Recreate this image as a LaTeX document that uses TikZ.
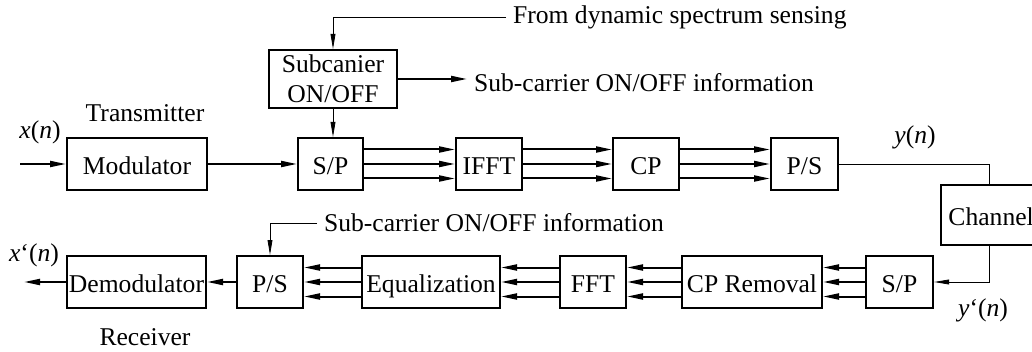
\documentclass[tikz,border=0pt]{standalone}
\usepackage{fontspec}
\setmainfont{Liberation Serif}
\usetikzlibrary{arrows.meta}

\begin{document}
\begin{tikzpicture}[x=0.5pt,y=-0.5pt,>={Triangle[length=8pt,width=3pt]},
    every node/.style={font=\fontsize{12.8}{15}\selectfont}]
    \tikzstyle{box} = [draw,line width=1pt,minimum height=26pt,inner sep=0pt,align=center]
    \tikzstyle{block} = [box,text height=11pt,text depth=0.5pt]
    \tikzstyle{bus} = [->,line width=1pt]
    \tikzstyle{wire} = [line width=0.4pt]
    \tikzstyle{tip} = [->,>={Triangle[length=7.5pt,width=2.4pt]}]
    \useasboundingbox (0,0) rectangle (1032,352);
    % transmitter row
    \node[block,minimum width=70pt] (mod) at (137,164) {Modulator};
    \node[block,minimum width=32.5pt] (sp1) at (330.5,164) {S/P};
    \node[block,minimum width=33pt] (ifft) at (489,164) {IFFT};
    \node[block,minimum width=33pt] (cp) at (646,164) {CP};
    \node[block,minimum width=33.5pt] (ps1) at (804.5,164) {P/S};
    \node[box,minimum width=64pt,minimum height=29pt] (sub) at (333,79) {Subcanier\\ON/OFF};
    \node[block,minimum width=48pt,minimum height=30pt,anchor=west] (chan) at (940,215) {\,Channel};
    % receiver row
    \node[block,minimum width=69.5pt] (demod) at (136.5,282) {Demodulator};
    \node[block,minimum width=33pt] (ps2) at (270,282) {P/S};
    \node[block,minimum width=69pt] (eq) at (431,282) {Equalization};
    \node[block,minimum width=33pt] (fft) at (593,282) {FFT};
    \node[block,minimum width=70pt] (cpr) at (752,282) {CP Removal};
    \node[block,minimum width=33.5pt] (sp2) at (899.5,282) {S/P};
    % labels
    \node (tx) at (145,113) {Transmitter};
    \node (rx) at (145,337) {Receiver};
    \node (xin) at (40,132) {\textit{x}(\textit{n})};
    \node (xout) at (34,255) {\textit{x}`(\textit{n})};
    \node (yn) at (915,137) {\textit{y}(\textit{n})};
    \node (yrx) at (983,310) {\textit{y}`(\textit{n})};
    \node[anchor=west] (sense) at (506,17) {From dynamic spectrum sensing};
    \node[anchor=west] (info1) at (467,83) {Sub-carrier ON/OFF information};
    \node[anchor=west] (info2) at (317,223) {Sub-carrier ON/OFF information};
    \coordinate (in) at (20,164);
    \coordinate (out) at (24,282);
    % connections
    \draw[bus] (in) -- (mod.west);
    \draw[bus] (mod.east) -- (sp1.west);
    \draw[wire,tip] (sense.west) -| (sub.north);
    \draw[wire,tip] (sub.south) -- (sub.south |- sp1.north);
    \draw[bus] (sub.east) -- (info1.west |- sub.east);
    \foreach \o in {-7.25pt,0pt,7.25pt}
    {
      \draw[bus] ([yshift=\o]sp1.east) -- ([yshift=\o]ifft.west);
      \draw[bus] ([yshift=\o]ifft.east) -- ([yshift=\o]cp.west);
      \draw[bus] ([yshift=\o]cp.east) -- ([yshift=\o]ps1.west);
      \draw[bus] ([yshift=\o]sp2.west) -- ([yshift=\o]cpr.east);
      \draw[bus] ([yshift=\o]cpr.west) -- ([yshift=\o]fft.east);
      \draw[bus] ([yshift=\o]fft.west) -- ([yshift=\o]eq.east);
      \draw[bus] ([yshift=\o]eq.west) -- ([yshift=\o]ps2.east);
    }
    \draw[wire] (ps1.east) -| (chan.north);
    \draw[wire,tip] (chan.south) |- (sp2.east);
    \draw[wire,tip] (info2.west) -| (ps2.north);
    \draw[bus] (ps2.west) -- (demod.east);
    \draw[bus] (demod.west) -- (out);
  \end{tikzpicture}
\end{document}
